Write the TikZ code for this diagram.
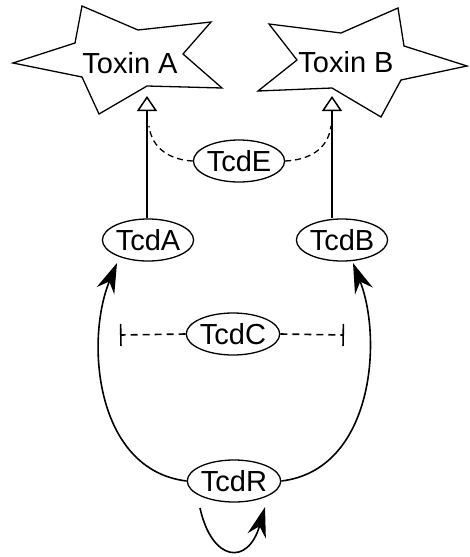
\documentclass[tikz,border=0pt]{standalone}
\usepackage{fontspec}
\setmainfont{Liberation Sans}
\usetikzlibrary{shapes.geometric,arrows.meta}

\begin{document}
\begin{tikzpicture}[x=1pt,y=-1pt,
  nodes={font=\fontsize{29}{32}\selectfont},
  prot/.style={draw,ellipse,line width=1.3pt,
    minimum width=91pt,minimum height=42pt,inner sep=0pt},
  toxin/.style={draw,line width=1.3pt,line join=miter},
  wire/.style={line width=1.6pt},
  act/.style={wire,-{Stealth[length=30pt,width=19pt,inset=10pt]}},
  prod/.style={wire,-{Triangle[open,length=15pt,width=20pt,line width=1.5pt]}},
  inhib/.style={wire,dash pattern=on 7pt off 5pt,-{Bar[width=22pt]}},
  helps/.style={line width=1.3pt,dash pattern=on 6pt off 4pt}]
 \useasboundingbox (0,0) rectangle (469,557);

 % the two toxins
 \draw[toxin] (82,6) -- (138,30) -- (211,22) -- (183,54) -- (222,88)
   -- (147,86) -- (99,114) -- (82,77) -- (13,63) -- (75,43) -- cycle;
 \draw[toxin] (269,24) -- (341,33) -- (398,8) -- (404,46) -- (467,66)
   -- (401,80) -- (381,117) -- (332,88) -- (258,91) -- (297,60) -- cycle;
 \node (toxA) at (130,63) {Toxin A};
 \node (toxB) at (346,62) {Toxin B};

 % proteins
 \node[prot] (tcdE) at (239,161) {TcdE};
 \node[prot] (tcdA) at (148,240) {TcdA};
 \node[prot] (tcdB) at (342,240) {TcdB};
 \node[prot] (tcdC) at (233,334) {TcdC};
 \node[prot] (tcdR) at (234,481) {TcdR};

 \coordinate (tipA) at (147,96);
 \coordinate (tipB) at (332,96);
 \coordinate (holdA) at (149,126);
 \coordinate (holdB) at (331,126);
 \coordinate (barA) at (120,335);
 \coordinate (barB) at (344,335);
 \coordinate (loopin) at (200,508);
 \coordinate (loopout) at (265,507);

 % production
 \draw[prod] (tcdA.north -| tipA) -- (tipA);
 \draw[prod] (tcdB.north -| tipB) -- (tipB);
 \draw[helps] (tcdE.west) .. controls (172,160) and (152,150) .. (holdA);
 \draw[helps] (tcdE.east) .. controls (308,160) and (328,150) .. (holdB);

 % regulation
 \draw[inhib] (tcdC.west) -- (barA);
 \draw[inhib] (tcdC.east) -- (barB);
 \draw[act] (tcdR.west) .. controls (95,470) and (85,340) .. (117,263);
 \draw[act] (tcdR.east) .. controls (373,470) and (383,340) .. (353,263);
 \draw[act] (loopin) .. controls (212,562) and (248,566) .. (loopout);
\end{tikzpicture}
\end{document}
